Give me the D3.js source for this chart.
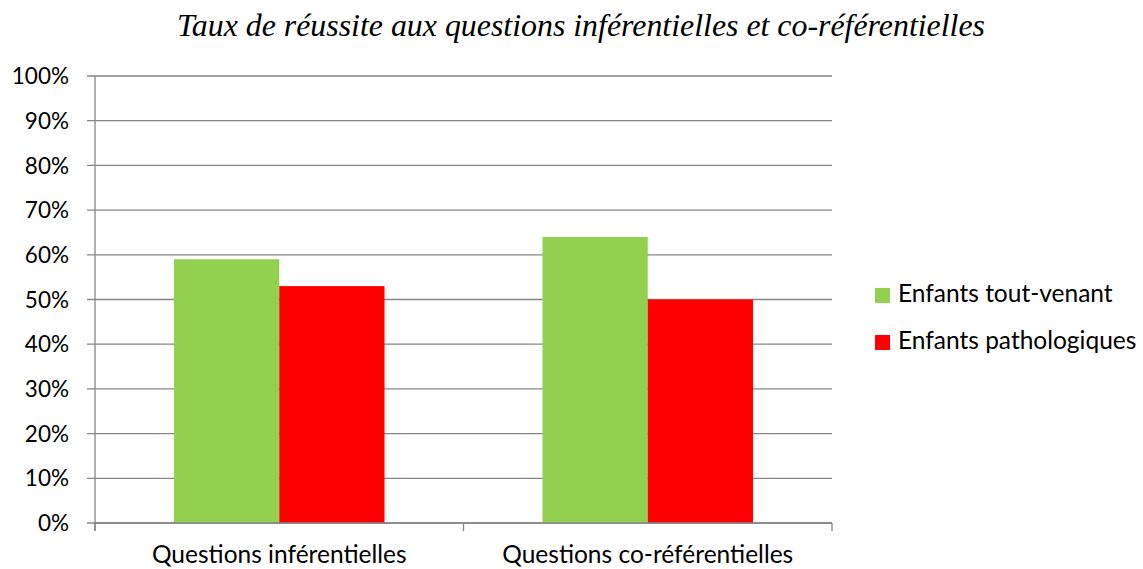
<!DOCTYPE html>
<html><head><meta charset="utf-8">
<script src="https://cdn.jsdelivr.net/npm/d3@7/dist/d3.min.js"></script>
<style>body{margin:0;background:#fff}</style>
</head><body>
<svg id="c" width="1143" height="569"></svg>
<script>
const categories = ["Questions inférentielles", "Questions co-référentielles"];
const seriesNames = ["Enfants tout-venant", "Enfants pathologiques"];
const toutVenant = [0.59, 0.64];
const pathologiques = [0.53, 0.50];
const yTicks = [0,0.1,0.2,0.3,0.4,0.5,0.6,0.7,0.8,0.9,1.0];
const colors = ["#92D050", "#FF0000"];
const title = "Taux de réussite aux questions inférentielles et co-référentielles";

const svg = d3.select("#c");
const L = 95, R = 832, T = 76, B = 523;
const x = d3.scaleBand().domain(categories).range([L, R]);
const inner = d3.scaleBand().domain(seriesNames).range([0, x.bandwidth()]).paddingInner(0).paddingOuter(0.75);
const y = d3.scaleLinear().domain([0, 1]).range([B, T]);
const font = "Lato, 'Open Sans', sans-serif";
const grid = "#868686";

// gridlines
svg.append("g").selectAll("line").data(yTicks).join("line")
  .attr("x1", L - 8).attr("x2", R).attr("y1", d => y(d)).attr("y2", d => y(d))
  .attr("stroke", grid).attr("stroke-width", 1.3);

// y labels
svg.append("g").selectAll("text").data(yTicks).join("text")
  .attr("x", 69).attr("y", d => y(d)).attr("dy", "0.36em").attr("text-anchor", "end")
  .attr("font-family", font).attr("font-size", 22.5).attr("fill", "#000")
  .text(d => d3.format(".0%")(d));

// bars
const data = [toutVenant, pathologiques];
seriesNames.forEach((s, si) => {
  svg.append("g").selectAll("rect").data(categories).join("rect")
    .attr("x", c => x(c) + inner(s)).attr("width", inner.bandwidth())
    .attr("y", (c, i) => y(data[si][i])).attr("height", (c, i) => B - y(data[si][i]))
    .attr("fill", colors[si]);
});

// axes lines
svg.append("line").attr("x1", L).attr("x2", L).attr("y1", T).attr("y2", B + 8).attr("stroke", grid).attr("stroke-width", 1.3);
svg.append("line").attr("x1", L).attr("x2", R).attr("y1", B).attr("y2", B).attr("stroke", grid).attr("stroke-width", 1.3);
const xt = categories.map(c => x(c)).concat([R]);
svg.append("g").selectAll("line").data(xt).join("line")
  .attr("x1", d => d).attr("x2", d => d).attr("y1", B).attr("y2", B + 8)
  .attr("stroke", grid).attr("stroke-width", 1.3);

// category labels
svg.append("g").selectAll("text").data(categories).join("text")
  .attr("x", c => x(c) + x.bandwidth() / 2).attr("y", 563).attr("text-anchor", "middle")
  .attr("font-family", font).attr("font-size", 24.5).attr("fill", "#000").text(c => c);

// legend
const lg = svg.append("g");
seriesNames.forEach((s, i) => {
  const yy = 288 + i * 47;
  lg.append("rect").attr("x", 875).attr("y", yy).attr("width", 15).attr("height", 15).attr("fill", colors[i]);
  lg.append("text").attr("x", 898).attr("y", yy + 14)
    .attr("font-family", font).attr("font-size", 24.5).attr("fill", "#000").text(s);
});

// title
svg.append("text").attr("x", 581).attr("y", 36).attr("text-anchor", "middle")
  .attr("font-family", "'Liberation Serif', serif").attr("font-style", "italic")
  .attr("font-size", 32).attr("textLength", 808).attr("lengthAdjust", "spacingAndGlyphs")
  .attr("fill", "#000").text(title);
</script>
</body></html>
